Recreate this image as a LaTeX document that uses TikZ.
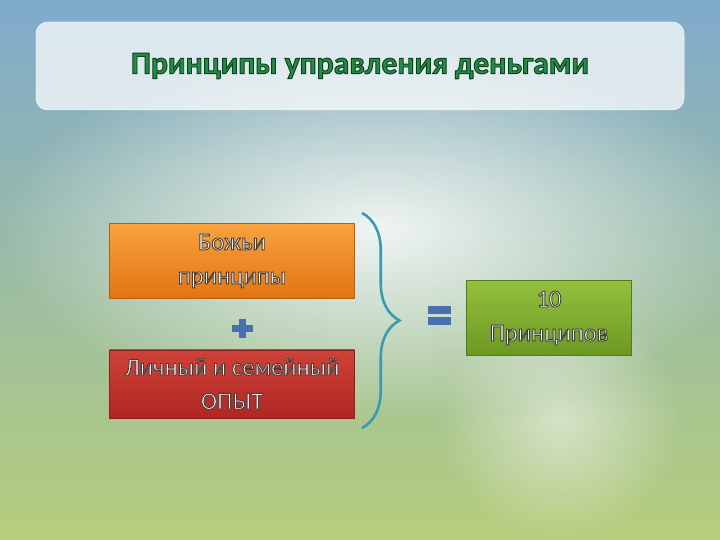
\documentclass[tikz,border=0pt]{standalone}
\usepackage{fontspec}
\setmainfont{Carlito}
\usetikzlibrary{positioning, decorations.pathreplacing, fadings}
\definecolor{skyblue}{RGB}{128,170,204}
\definecolor{haze}{RGB}{238,240,226}
\definecolor{meadow}{RGB}{182,206,124}
\definecolor{titlegreen}{RGB}{34,140,72}
\definecolor{orangetop}{RGB}{248,162,62}
\definecolor{orangebot}{RGB}{226,116,18}
\definecolor{redtop}{RGB}{206,66,56}
\definecolor{redbot}{RGB}{176,38,34}
\definecolor{greentop}{RGB}{148,192,62}
\definecolor{greenbot}{RGB}{108,152,34}
\definecolor{braceteal}{RGB}{58,154,182}
\definecolor{signblue}{RGB}{72,112,176}
\tikzfading[name=glowfade, inner color=transparent!0, outer color=transparent!100]
% outlined lettering: fill and stroke the glyphs
\newcommand{\outl}[2][0.25 0.25 0.25]{%
  \special{pdf:literal direct 2 Tr 0.8 w #1 RG}#2\special{pdf:literal direct 0 Tr}}
\tikzset{
  slidebox/.style = {rectangle, inner sep=0pt, minimum height=2.25cm,
                     align=center, font=\fontsize{21}{29}\selectfont, text=white},
  titlebox/.style = {draw=white, rounded corners=10pt, fill=white, fill opacity=.72,
                     minimum width=19.44cm, minimum height=2.64cm},
  bracket/.style  = {draw=braceteal, line width=2.2pt,
                     decorate, decoration={brace, amplitude=32pt}},
  sign/.style     = {fill=signblue},
}
\begin{document}
\begin{tikzpicture}[x=0.03cm, y=-0.03cm]
  \useasboundingbox (0,0) rectangle (720,540);
  % blurred backdrop
  \shade[top color=skyblue, middle color=haze, bottom color=meadow] (0,0) rectangle (720,540);
  \fill[white, path fading=glowfade, opacity=.85] (380,230) ellipse (380 and 190);
  \fill[white, path fading=glowfade, opacity=.5] (560,420) circle (120);
  % heading
  \node[titlebox] (head) at (360,66) {};
  \node[font=\fontsize{27}{32}\selectfont\bfseries, text=titlegreen] (title) at (head)
    {\outl[0.05 0.25 0.1]{Принципы управления деньгами}};
  % left column
  \node[slidebox, minimum width=7.35cm, top color=orangetop, bottom color=orangebot,
        draw=orangebot!80!black] (god) at (232,261)
    {\outl{Божьи}\\\outl{принципы}};
  \node[slidebox, minimum width=7.35cm, minimum height=2.04cm, top color=redtop,
        bottom color=redbot, draw=redbot!80!black] (life) at (232,384)
    {\outl{Личный и семейный}\\\outl{ОПЫТ}};
  \fill[sign] (232,325) rectangle (253,332);
  \fill[sign] (239,319) rectangle (246,338);
  % brace and result
  \coordinate (braceTop) at (362,213);
  \coordinate (braceBot) at (362,428);
  \draw[bracket] (braceTop) -- (braceBot);
  \fill[sign] (428,306) rectangle (451,314);
  \fill[sign] (428,317) rectangle (451,325);
  \node[slidebox, minimum width=4.95cm, top color=greentop, bottom color=greenbot,
        draw=greenbot!80!black] (ten) at (549,318)
    {\outl{10}\\\outl{Принципов}};
\end{tikzpicture}
\end{document}
